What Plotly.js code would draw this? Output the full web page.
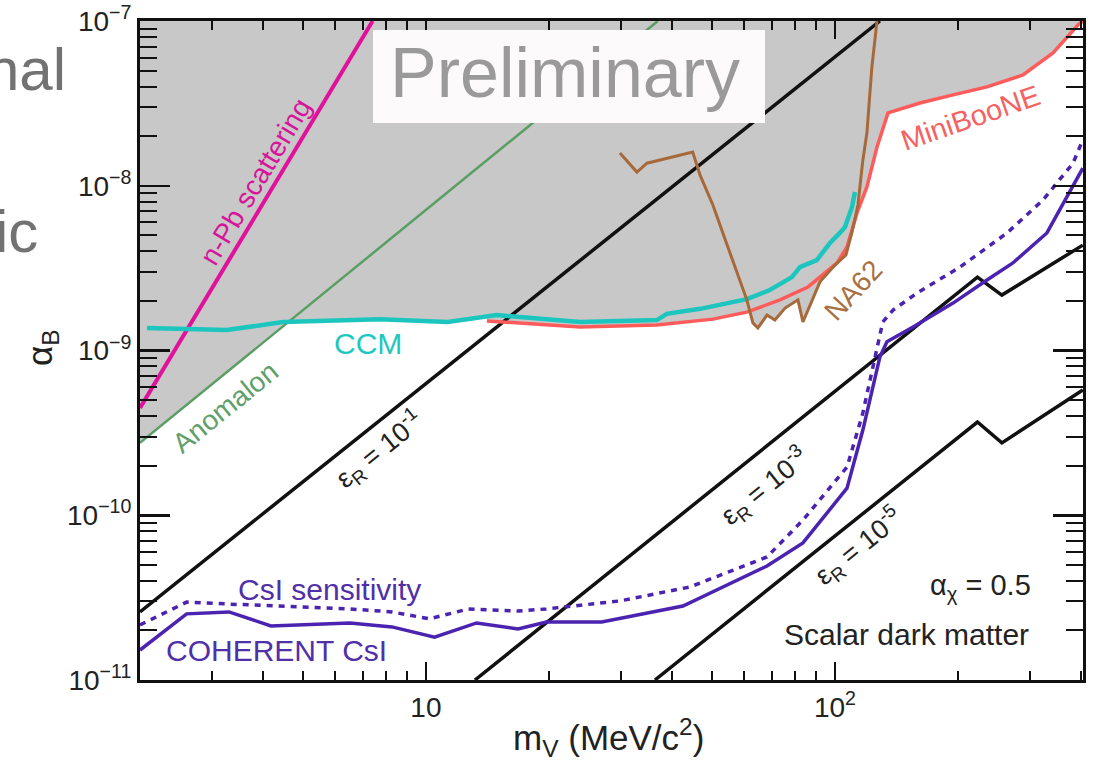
<!DOCTYPE html>
<html>
<head>
<meta charset="utf-8">
<script src="https://cdn.plot.ly/plotly-3.0.1.min.js"></script>
<style>
html, body { margin: 0; padding: 0; background: #ffffff; }
#chart { width: 1099px; height: 769px; }
</style>
</head>
<body>
<div id="chart"></div>
<script>
// ---------------- data (m_V in MeV, alpha_B) ----------------
const nPbX = [2.0, 7.41];
const nPbY = [4.48e-10, 1.0e-7];

const anomalonX = [2.0, 36.9];
const anomalonY = [2.75e-10, 1.0e-7];

const ccmX = [2.08, 3.26, 4.47, 7.72, 11.3, 14.9, 23.8, 36.7, 38.8, 46.8, 60.9, 69.3, 78.5, 82.1, 90.3, 97.2, 102.8, 105.8, 110.1, 111.9];
const ccmY = [1.37e-9, 1.33e-9, 1.49e-9, 1.55e-9, 1.49e-9, 1.64e-9, 1.49e-9, 1.53e-9, 1.67e-9, 1.79e-9, 2.05e-9, 2.33e-9, 2.79e-9, 3.21e-9, 3.54e-9, 4.49e-9, 5.17e-9, 5.62e-9, 7.43e-9, 9.16e-9];

const miniBooNEX = [14.1, 23.8, 36.7, 50.3, 60.9, 73.4, 85.9, 101.2, 107.0, 113.2, 119.7, 126.7, 134.8, 161.4, 194.4, 235.3, 288.1, 341.2, 392.6, 404];
const miniBooNEY = [1.51e-9, 1.39e-9, 1.43e-9, 1.55e-9, 1.71e-9, 2.03e-9, 2.43e-9, 3.40e-9, 4.25e-9, 6.84e-9, 9.83e-9, 1.72e-8, 2.77e-8, 3.18e-8, 3.56e-8, 3.98e-8, 4.70e-8, 6.40e-8, 9.46e-8, 1.0e-7];

const na62X = [29.8, 32.8, 34.7, 44.9, 46.8, 50.3, 54.5, 58.6, 60.9, 63.0, 64.8, 68.2, 71.3, 75.5, 81.2, 83.5, 87.9, 91.9, 100, 106.4, 110.1, 113.8, 117.0, 119.7, 123.1, 126.7];
const na62Y = [1.58e-8, 1.21e-8, 1.37e-8, 1.60e-8, 1.16e-8, 7.64e-9, 4.37e-9, 2.68e-9, 2.03e-9, 1.47e-9, 1.37e-9, 1.64e-9, 1.53e-9, 1.81e-9, 2.03e-9, 1.49e-9, 2.03e-9, 2.61e-9, 3.30e-9, 3.80e-9, 5.24e-9, 7.64e-9, 1.43e-8, 2.09e-8, 5.26e-8, 1.0e-7];

const eps1X = [2.0, 128.8];
const eps1Y = [2.59e-11, 1.0e-7];
const eps3X = [13.18, 223, 255.9, 403.6];
const eps3Y = [1.0e-11, 2.79e-9, 2.17e-9, 4.36e-9];
const eps5X = [36.3, 223, 255.9, 403.6];
const eps5Y = [1.0e-11, 3.68e-10, 2.75e-10, 5.75e-10];

const csiX = [2.0, 2.60, 3.30, 4.18, 6.52, 8.26, 10.5, 13.3, 16.8, 19.7, 26.9, 42.5, 68.2, 83.5, 107.0, 117.0, 128.8, 134.0, 155.2, 194.4, 235.3, 272.3, 329.7, 381.9, 403.6];
const csiY = [1.52e-11, 2.52e-11, 2.59e-11, 2.13e-11, 2.22e-11, 2.10e-11, 1.82e-11, 2.22e-11, 2.04e-11, 2.25e-11, 2.25e-11, 2.81e-11, 4.92e-11, 6.79e-11, 1.46e-10, 3.29e-10, 9.14e-10, 1.13e-9, 1.39e-9, 1.94e-9, 2.68e-9, 3.40e-9, 5.17e-9, 9.83e-9, 1.28e-8];

const sensX = [2.0, 2.60, 3.30, 6.52, 8.26, 10.2, 12.7, 16.8, 19.7, 29.8, 44.2, 68.2, 83.5, 107.0, 117.0, 126.7, 130.9, 138.7, 158.6, 202.2, 263.5, 322.6, 381.9, 403.6];
const sensY = [2.16e-11, 2.97e-11, 2.89e-11, 2.70e-11, 2.59e-11, 2.35e-11, 2.70e-11, 2.62e-11, 2.70e-11, 3.02e-11, 3.67e-11, 5.58e-11, 9.35e-11, 1.96e-10, 4.18e-10, 1.05e-9, 1.49e-9, 1.76e-9, 2.23e-9, 3.21e-9, 5.17e-9, 8.20e-9, 1.37e-8, 1.90e-8];

// tick labels
const xTickVals = [10, 100];
const xTickText = ["10", "10<sup>2</sup>"];
const yTickVals = [1e-11, 1e-10, 1e-9, 1e-8, 1e-7];
const yTickText = ["10<sup>\u221211</sup>", "10<sup>\u221210</sup>", "10<sup>\u22129</sup>", "10<sup>\u22128</sup>", "10<sup>\u22127</sup>"];

// ---------------- layout geometry ----------------
const FONT = "Liberation Sans, Arial, Helvetica, sans-serif";
const PL = 140, PR = 1083, PT = 21, PB = 680;
const fx = px => (px - PL) / (PR - PL);
const fy = py => (PB - py) / (PB - PT);
const X0 = 2.0, X1 = 404, YTOP = 1e-7;

// minor ticks (2..9 in every decade)
const xMinor = [], yMinor = [];
[1, 10, 100].forEach(d => { for (let k = 2; k <= 9; k++) { const v = k * d; if (v > X0 && v < X1) xMinor.push(v); } });
[1e-11, 1e-10, 1e-9, 1e-8].forEach(d => { for (let k = 2; k <= 9; k++) yMinor.push(k * d); });

// ---------------- excluded (gray) region = lower envelope of the limits ----------------
function loglogAt(xs, ys, x, extend) {
  const lx = Math.log10(x), L = xs.map(Math.log10), Ly = ys.map(Math.log10), n = xs.length;
  let i;
  if (lx < L[0] || lx > L[n - 1]) {
    if (!extend) return Infinity;
    i = lx < L[0] ? 0 : n - 2;
  } else {
    i = 0;
    while (i < n - 2 && lx > L[i + 1]) i++;
  }
  const t = (lx - L[i]) / (L[i + 1] - L[i]);
  return Math.pow(10, Ly[i] + t * (Ly[i + 1] - Ly[i]));
}
const gridSet = new Set([...ccmX, ...miniBooNEX, ...na62X]);
const NG = 400;
for (let i = 0; i <= NG; i++) gridSet.add(Math.pow(10, Math.log10(X0) + (Math.log10(X1) - Math.log10(X0)) * i / NG));
const grid = [...gridSet].filter(v => v >= X0 && v <= X1).sort((a, b) => a - b);
const envX = [X0], envY = [YTOP * 2];
grid.forEach(x => {
  const y = Math.min(
    loglogAt(nPbX, nPbY, x, true),
    loglogAt(anomalonX, anomalonY, x, true),
    loglogAt(ccmX, ccmY, x, false),
    loglogAt(miniBooNEX, miniBooNEY, x, false),
    loglogAt(na62X, na62Y, x, false),
    YTOP * 2);
  envX.push(x); envY.push(y);
});
envX.push(X1); envY.push(YTOP * 2);

// ---------------- traces ----------------
const line = (x, y, color, width, dash) => ({
  type: "scatter", mode: "lines", x: x, y: y, hoverinfo: "skip", showlegend: false,
  line: { color: color, width: width, dash: dash || "solid" }
});

const traces = [
  { type: "scatter", mode: "lines", x: envX, y: envY, fill: "toself", fillcolor: "#c8c8c8",
    line: { width: 0, color: "rgba(0,0,0,0)" }, hoverinfo: "skip", showlegend: false },
  line(nPbX, nPbY, "#e0129b", 4),
  line(anomalonX, anomalonY, "#5a9e64", 2.5),
  line(eps1X, eps1Y, "#111111", 3.5),
  line(eps3X, eps3Y, "#111111", 3.5),
  line(eps5X, eps5Y, "#111111", 3.5),
  line(miniBooNEX, miniBooNEY, "#ff5b5b", 3.5),
  line(ccmX, ccmY, "#1cc6bf", 4.5),
  line(na62X, na62Y, "#a8693a", 3),
  line(sensX, sensY, "#4b23b0", 3.5, "6px,6px"),
  line(csiX, csiY, "#4b23b0", 3.5)
];

// ---------------- annotations ----------------
const ann = (text, px, py, size, color, angle, extra) => Object.assign({
  text: text, xref: "paper", yref: "paper", x: fx(px), y: fy(py),
  xanchor: "center", yanchor: "middle", showarrow: false, textangle: angle || 0,
  font: { family: FONT, size: size, color: color }
}, extra || {});

const annotations = [
  ann("Preliminary", 565, 73, 70, "#9a9a9a"),
  ann("n-Pb scattering", 256, 182, 28, "#d8149a", -59),
  ann("Anomalon", 225, 407, 28, "#5fa06a", -39),
  ann("CCM", 368, 343, 30, "#1ec8c0"),
  ann("MiniBooNE", 970, 118, 29, "#f56262", -19),
  ann("NA62", 853, 290, 28, "#a8703f", -47),
  ann("\u03b5<sub>R</sub> = 10<sup>-1</sup>", 379, 450, 27, "#222222", -39),
  ann("\u03b5<sub>R</sub> = 10<sup>-3</sup>", 764, 487, 27, "#222222", -39),
  ann("\u03b5<sub>R</sub> = 10<sup>-5</sup>", 858, 547, 27, "#222222", -39),
  ann("\u03b1<sub>\u03c7</sub> = 0.5", 980, 587, 29, "#222222"),
  ann("Scalar dark matter", 906, 634, 30, "#222222"),
  ann("CsI sensitivity", 329, 589, 30, "#5030a8"),
  ann("COHERENT CsI", 276, 650, 30, "#5030a8"),
  ann("m<sub>V</sub> (MeV/c<sup>2</sup>)", 608, 738, 35, "#222222"),
  ann("\u03b1<sub>B</sub>", 42, 348, 35, "#222222", -90),
  ann("nal", 68, 69, 60, "#727272", 0, { xanchor: "right" }),
  ann("ic", 40, 231, 60, "#727272", 0, { xanchor: "right" })
];

const axisCommon = {
  type: "log", showgrid: false, zeroline: false, showline: true, linewidth: 3, linecolor: "#111111",
  mirror: "allticks", ticks: "inside", tickwidth: 2.5, tickcolor: "#111111",
  tickmode: "array", tickfont: { family: FONT, size: 28, color: "#222222" }
};

const layout = {
  width: 1099, height: 769,
  margin: { l: PL, r: 1099 - PR, t: PT, b: 769 - PB },
  paper_bgcolor: "#ffffff", plot_bgcolor: "#ffffff",
  showlegend: false,
  font: { family: FONT },
  xaxis: Object.assign({}, axisCommon, {
    range: [Math.log10(X0), Math.log10(X1)],
    tickvals: xTickVals, ticktext: xTickText, ticklen: 18,
    minor: { tickmode: "array", tickvals: xMinor, ticks: "inside", ticklen: 9, tickwidth: 2, tickcolor: "#111111", showgrid: false }
  }),
  yaxis: Object.assign({}, axisCommon, {
    range: [-11, -7],
    tickvals: yTickVals, ticktext: yTickText, ticklen: 30,
    minor: { tickmode: "array", tickvals: yMinor, ticks: "inside", ticklen: 17, tickwidth: 2, tickcolor: "#111111", showgrid: false }
  }),
  shapes: [
    { type: "rect", xref: "paper", yref: "paper", x0: fx(373), x1: fx(765), y0: fy(123), y1: fy(30),
      fillcolor: "#fcfafa", line: { width: 0 }, layer: "above" }
  ],
  annotations: annotations
};

Plotly.newPlot("chart", traces, layout, { staticPlot: true, displayModeBar: false });
</script>
</body>
</html>
